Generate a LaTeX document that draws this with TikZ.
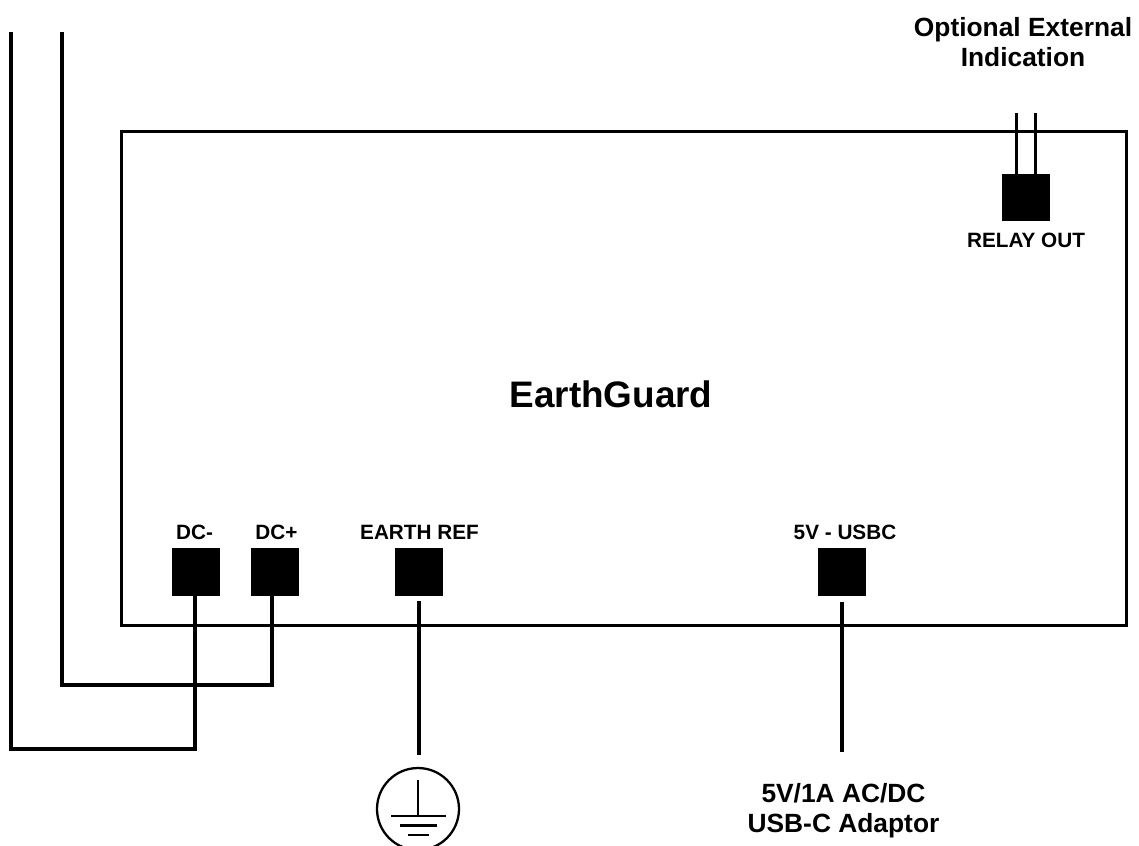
\documentclass[tikz,border=0pt]{standalone}
\usepackage{fontspec}
\setmainfont{Liberation Sans}

\tikzset{
  wire/.style={line width=1.75pt,line join=miter},
  port/.style={fill=black,minimum size=0.96cm,inner sep=0pt,outer sep=0pt},
  portlabel/.style={font=\fontsize{11.8}{14}\selectfont\bfseries,inner sep=0pt},
  notelabel/.style={font=\fontsize{15}{17}\selectfont\bfseries,align=center,inner sep=0pt},
}

\begin{document}
\begin{tikzpicture}[x=0.02cm,y=-0.02cm]
  \useasboundingbox (0,0) rectangle (1139,845);
  \clip (0,0) rectangle (1139,845);
  \node[draw,line width=1.75pt,minimum width=20.12cm,minimum height=9.9cm,inner sep=0pt] (board) at (624,378.5) {};
  \node[font=\fontsize{21}{24}\selectfont\bfseries,inner sep=0pt] (name) at (611,394) {EarthGuard};

  \node[port] (dcm) at (196,572) {};
  \node[port] (dcp) at (275,572) {};
  \node[port] (earth) at (419,572) {};
  \node[port] (usbc) at (842,572) {};
  \node[port] (relay) at (1026,197.5) {};

  \node[portlabel] (ldcm) at (194.5,532) {DC-};
  \node[portlabel] (ldcp) at (276.5,532) {DC+};
  \node[portlabel] (learth) at (419.5,532) {EARTH REF};
  \node[portlabel] (lusbc) at (845,532) {5V - USBC};
  \node[portlabel] (lrelay) at (1026,240.5) {RELAY OUT};
  \node[notelabel] (lopt) at (1023,42) {Optional External\\Indication};
  \node[notelabel] (ladapt) at (843.5,811) {5V/1A AC/DC\\USB-C Adaptor};

  \coordinate (dcmend) at (11,32);
  \coordinate (dcpend) at (62,32);
  \coordinate (earthend) at (419,755);
  \coordinate (usbcend) at (842,752);
  \coordinate (relayendA) at (1016.5,113);
  \coordinate (relayendB) at (1035.5,113);

  \draw[wire] ([xshift=-0.57pt]dcm.south) -- ++(0,153) -| (dcmend);
  \draw[wire] ([xshift=-1.7pt]dcp.south) -- ++(0,89) -| (dcpend);
  \draw[wire,shorten <=2.8pt] (earth.south) -- (earthend);
  \draw[wire,shorten <=3.4pt] (usbc.south) -- (usbcend);
  \draw[wire] (relay.north -| relayendA) -- (relayendA);
  \draw[wire] (relay.north -| relayendB) -- (relayendB);

  % earth symbol
  \node[draw,circle,line width=1.3pt,minimum size=1.64cm,inner sep=0pt] (gnd) at (418,809) {};
  \coordinate (gndtop) at (418,780);
  \coordinate (gndbar) at (418,816);
  \draw[line width=1.3pt] (gndtop) -- (gndbar);
  \draw[line width=1.3pt] (391,816) -- (446,816);
  \draw[line width=1.3pt] (400,825.5) -- (437,825.5);
  \draw[line width=1.3pt] (408,835) -- (429,835);
\end{tikzpicture}
\end{document}
